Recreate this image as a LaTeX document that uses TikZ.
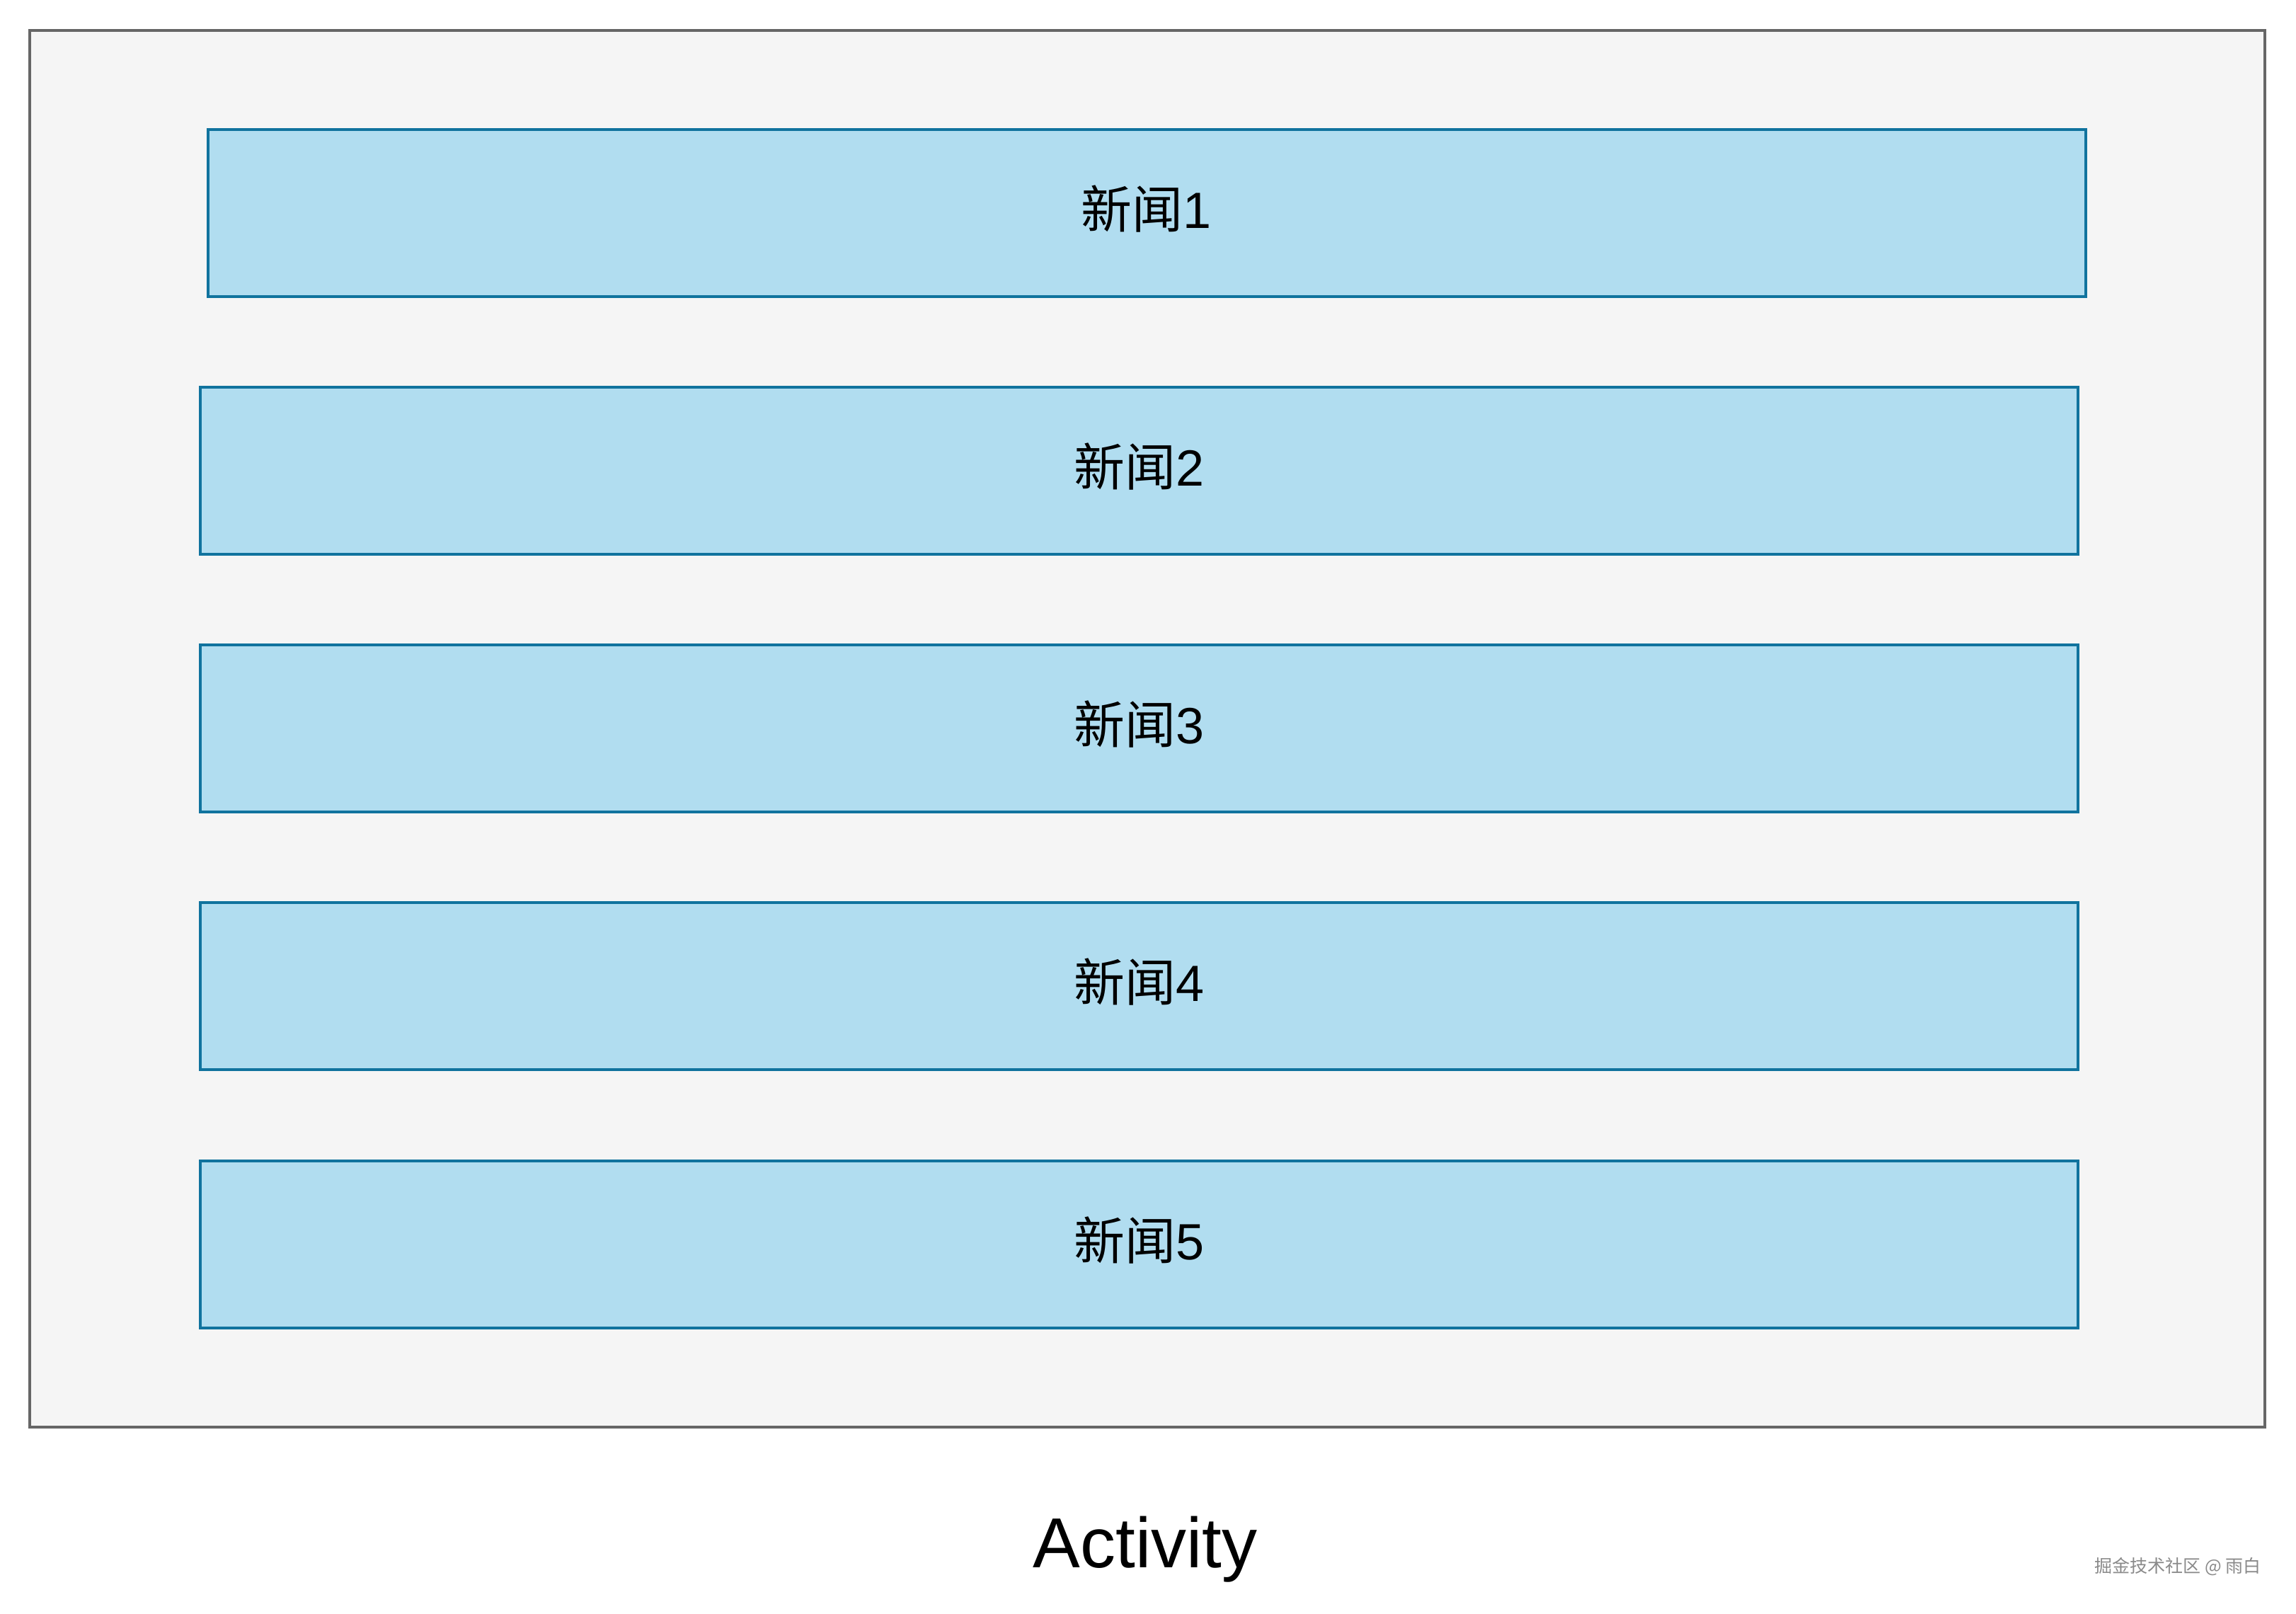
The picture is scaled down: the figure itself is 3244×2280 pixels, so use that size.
\documentclass[tikz,border=0pt]{standalone}
\usepackage{fontspec}
\setmainfont{Liberation Sans}
\newfontfamily\cjk{Noto Sans CJK SC}
\definecolor{outerfill}{HTML}{F5F5F5}
\definecolor{outerline}{HTML}{666666}
\definecolor{boxfill}{HTML}{B1DDF0}
\definecolor{boxline}{HTML}{10739E}
\definecolor{wmgray}{HTML}{8A8A8A}
\tikzset{
  newsbox/.style={draw=boxline, fill=boxfill, line width=4pt, minimum width=2653pt, minimum height=236pt, inner sep=0pt},
  newstext/.style={inner sep=0pt, font=\fontsize{72}{86}\selectfont},
}
\begin{document}
\begin{tikzpicture}[x=1pt,y=-1pt]
\useasboundingbox (0,0) rectangle (3244,2280);
\fill[white] (0,0) rectangle (3244,2280);
\node[draw=outerline, fill=outerfill, line width=4pt, minimum width=3158pt, minimum height=1973pt, inner sep=0pt] (activity) at (1621,1029.5) {};
\node[newsbox] (n1) at (1620,301) {};
\node[newsbox] (n2) at (1609.5,665) {};
\node[newsbox] (n3) at (1609.5,1029) {};
\node[newsbox] (n4) at (1609.5,1393) {};
\node[newsbox] (n5) at (1609.5,1758) {};
\node[newstext] (t1) at ([yshift=6pt]n1.center) {{\cjk 新闻}1};
\node[newstext] (t2) at ([yshift=6pt]n2.center) {{\cjk 新闻}2};
\node[newstext] (t3) at ([yshift=6pt]n3.center) {{\cjk 新闻}3};
\node[newstext] (t4) at ([yshift=6pt]n4.center) {{\cjk 新闻}4};
\node[newstext] (t5) at ([yshift=6pt]n5.center) {{\cjk 新闻}5};
\node[font=\fontsize{100}{120}\selectfont, inner sep=0pt] (label) at (1618,2189) {Activity};
\node[font=\fontsize{25}{30}\selectfont\cjk, text=wmgray, inner sep=0pt] (wm) at (3077,2213) {掘金技术社区 @ 雨白};
\end{tikzpicture}
\end{document}
